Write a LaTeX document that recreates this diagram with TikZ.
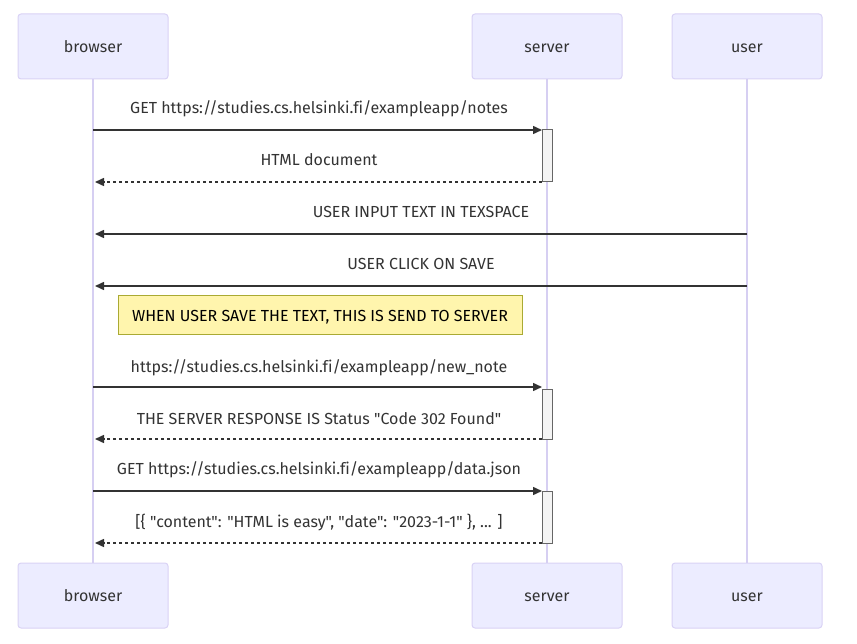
\documentclass[tikz,border=0pt]{standalone}
\usepackage{fontspec}
\setmainfont{Fira Sans}[Ligatures={NoCommon,TeXOff}]
\usetikzlibrary{arrows.meta}
\definecolor{actfill}{HTML}{ECECFF}
\definecolor{actdraw}{HTML}{D9D2F5}
\definecolor{life}{HTML}{D6CFF2}
\definecolor{txt}{HTML}{333333}
\definecolor{actvfill}{HTML}{F4F4F4}
\definecolor{actvdraw}{HTML}{666666}
\definecolor{notefill}{HTML}{FFF5AD}
\definecolor{notedraw}{HTML}{AAAA33}
\tikzset{
  actor/.style={draw=actdraw, fill=actfill, line width=1pt, rounded corners=3pt,
    minimum width=150pt, minimum height=65pt, inner sep=0pt, text height=14pt, text depth=2pt,
    font=\fontsize{16}{18}\selectfont, text=txt},
  lifeline/.style={draw=life, line width=1.5pt},
  msg/.style={draw=txt, line width=1.5pt, -{Triangle[length=9pt,width=8pt]}},
  reply/.style={msg, dash pattern=on 3pt off 3pt},
  lbl/.style={font=\fontsize{16}{18}\selectfont, text=txt, inner sep=0pt, text height=14pt, text depth=2pt},
  activ/.style={draw=actvdraw, fill=actvfill, line width=1pt},
  notebox/.style={draw=notedraw, fill=notefill, line width=1pt, inner sep=0pt,
    minimum width=404pt, minimum height=39pt, text height=14pt, text depth=2pt,
    font=\fontsize{16}{18}\selectfont, text=black}
}
\begin{document}
\begin{tikzpicture}[x=1pt,y=-1pt]
\useasboundingbox (0,0) rectangle (857,644);
% actors
\node[actor] (bt) at (93,46.5) {browser};
\node[actor] (st) at (547,46.5) {server};
\node[actor] (ut) at (747,46.5) {user};
\node[actor] (bb) at (93,595.5) {browser};
\node[actor] (sb) at (547,595.5) {server};
\node[actor] (ub) at (747,595.5) {user};
% lifelines
\draw[lifeline] (bt.south) -- (bb.north);
\draw[lifeline] (st.south) -- (sb.north);
\draw[lifeline] (ut.south) -- (ub.north);
% activations
\draw[activ] (542,130) rectangle (552,182);
\draw[activ] (542,389) rectangle (552,439);
\draw[activ] (542,491) rectangle (552,543);
% message points
\coordinate (b1) at (93,130); \coordinate (s1) at (542,130);
\coordinate (b2) at (95,182); \coordinate (s2) at (542,182);
\coordinate (b3) at (95,234); \coordinate (u3) at (747,234);
\coordinate (b4) at (95,286); \coordinate (u4) at (747,286);
\coordinate (b5) at (93,387); \coordinate (s5) at (542,387);
\coordinate (b6) at (95,439); \coordinate (s6) at (542,439);
\coordinate (b7) at (93,491); \coordinate (s7) at (542,491);
\coordinate (b8) at (95,543); \coordinate (s8) at (542,543);
\draw[msg] (b1) -- (s1);
\draw[reply] (s2) -- (b2);
\draw[msg] (u3) -- (b3);
\draw[msg] (u4) -- (b4);
\draw[msg] (b5) -- (s5);
\draw[reply] (s6) -- (b6);
\draw[msg] (b7) -- (s7);
\draw[reply] (s8) -- (b8);
% labels
\node[lbl] (l1) at (319,108) {GET https://studies.cs.helsinki.fi/exampleapp/notes};
\node[lbl] (l2) at (319,160) {HTML document};
\node[lbl] (l3) at (421,212) {USER INPUT TEXT IN TEXSPACE};
\node[lbl] (l4) at (421,264) {USER CLICK ON SAVE};
\node[notebox] (n1) at (320,315.5) {WHEN USER SAVE THE TEXT, THIS IS SEND TO SERVER};
\node[lbl] (l5) at (319,366) {https://studies.cs.helsinki.fi/exampleapp/new\_note};
\node[lbl] (l6) at (319,418) {THE SERVER RESPONSE IS Status "Code 302 Found"};
\node[lbl] (l7) at (319,468) {GET https://studies.cs.helsinki.fi/exampleapp/data.json};
\node[lbl] (l8) at (319,521) {[\{ "content": "HTML is easy", "date": "2023-1-1" \}, ... ]};
\end{tikzpicture}
\end{document}
